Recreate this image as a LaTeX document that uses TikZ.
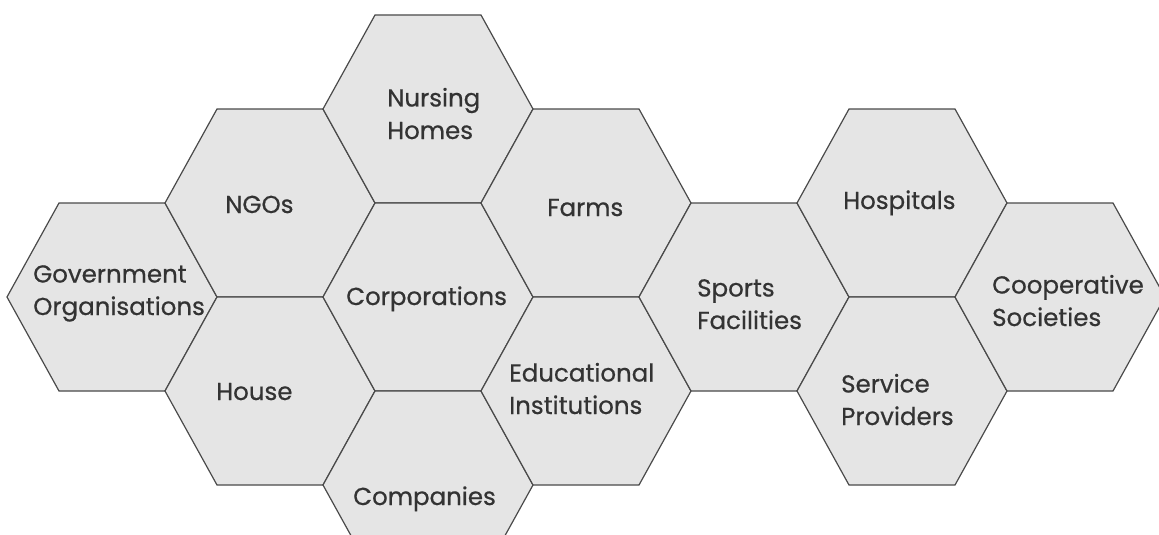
\documentclass[tikz,border=0pt]{standalone}
\usepackage{fontspec}
\setmainfont{Poppins}[UprightFeatures={FakeBold=0.6}]
\definecolor{hexfill}{HTML}{E5E5E5}
\definecolor{hexline}{HTML}{4A4A4A}
\definecolor{txt}{HTML}{333333}
\newcommand{\hexa}[3]{%
  \coordinate (#1) at (#2,#3);
  \draw[hexstyle] ({#2-105},#3) -- ({#2-53},{#3-94}) -- ({#2+53},{#3-94}) -- ({#2+105},#3) -- ({#2+53},{#3+94}) -- ({#2-53},{#3+94}) -- cycle;}
\tikzset{
  hexstyle/.style={fill=hexfill, draw=hexline, line width=1.2pt, line join=miter},
  lbl/.style={anchor=base west, inner sep=0pt, align=left, text=txt,
    font=\fontsize{24.5}{32.5}\selectfont}
}
\begin{document}
\begin{tikzpicture}[x=1pt,y=-1pt]
\useasboundingbox (0,0) rectangle (1159,535);
\fill[white] (0,0) rectangle (1159,535);
\clip (0,0) rectangle (1159,535);
\hexa{gov}{112}{297}
\hexa{ngo}{270}{203}
\hexa{house}{270}{391}
\hexa{nurs}{428}{109}
\hexa{corp}{428}{297}
\hexa{comp}{428}{485}
\hexa{farm}{586}{203}
\hexa{edu}{586}{391}
\hexa{sport}{744}{297}
\hexa{hosp}{902}{203}
\hexa{serv}{902}{391}
\hexa{coop}{1060}{297}
\node[lbl] (tnurs) at (387,139) {Nursing\\Homes};
\node[lbl] (tgov) at (33,315) {Government\\Organisations};
\node[lbl] (tngo) at (225,213) {NGOs};
\node[lbl] (thouse) at (216,400) {House};
\node[lbl] (tcorp) at (346,305) {Corporations};
\node[lbl] (tcomp) at (353,505) {Companies};
\node[lbl] (tfarm) at (547,216) {Farms};
\node[lbl] (tedu) at (509,414) {Educational\\Institutions};
\node[lbl] (tsport) at (697,329) {Sports\\Facilities};
\node[lbl] (thosp) at (843,209) {Hospitals};
\node[lbl] (tserv) at (841,425) {Service\\Providers};
\node[lbl] (tcoop) at (992,326) {Cooperative\\Societies};
\end{tikzpicture}
\end{document}
